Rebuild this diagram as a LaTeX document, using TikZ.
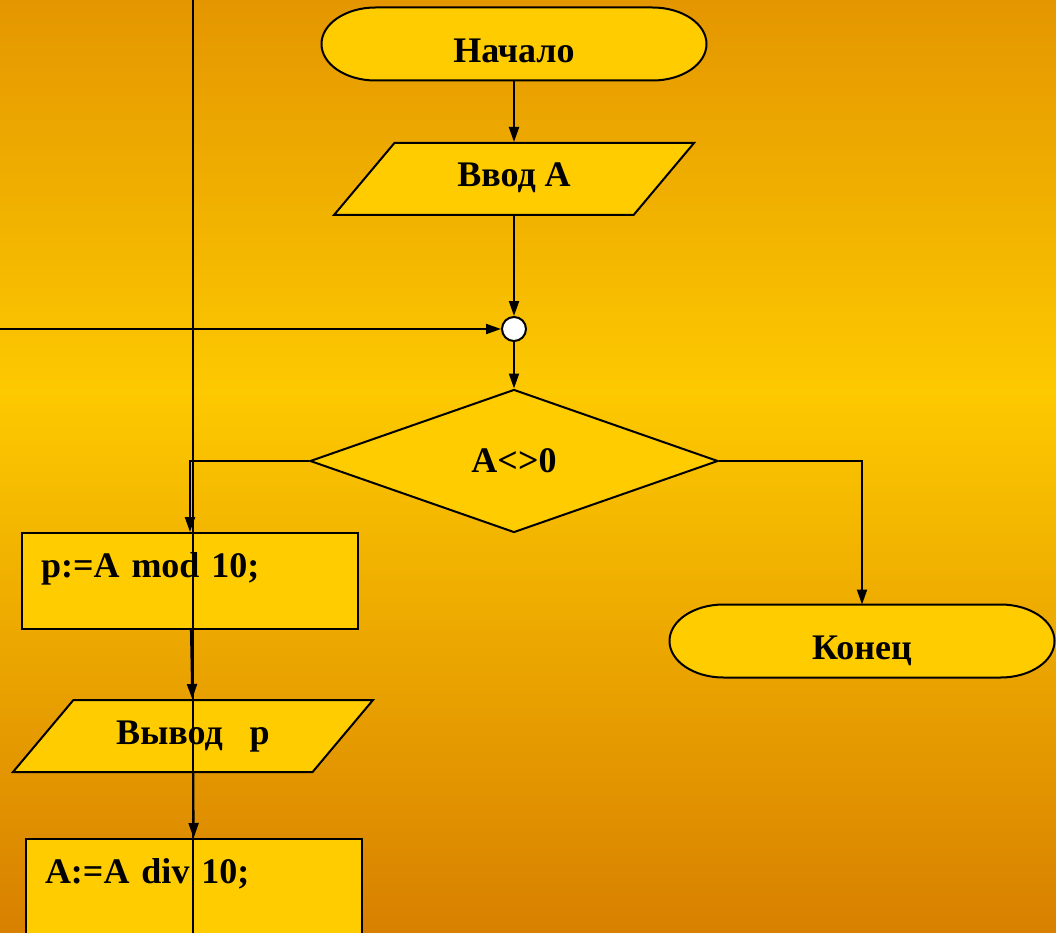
\documentclass[tikz,border=0pt]{standalone}
\usepackage{fontspec}
\setmainfont{Liberation Serif}
\usetikzlibrary{arrows.meta,shapes.geometric}
\definecolor{bgtop}{RGB}{228,150,0}
\definecolor{bgmid}{RGB}{253,201,0}
\definecolor{bgbot}{RGB}{216,128,0}
\definecolor{boxfill}{RGB}{255,204,0}
\pgfdeclareverticalshading{bgshade}{100bp}{color(0bp)=(bgbot); color(25bp)=(bgbot);
  color(54bp)=(bgmid); color(75bp)=(bgtop); color(100bp)=(bgtop)}
\pgfdeclarelayer{back}
\pgfdeclarelayer{outline}
\pgfsetlayers{back,outline,main}

% oval ends of a terminal block
\newcommand\termoutline[1]{%
  \filldraw[-, line width=2pt, fill=boxfill]
    ([xshift=54pt]#1.north west) -- ([xshift=-54pt]#1.north east)
    arc[start angle=90, end angle=-90, x radius=54pt, y radius=36.5pt]
    -- ([xshift=54pt]#1.south west)
    arc[start angle=270, end angle=90, x radius=54pt, y radius=36.5pt] -- cycle;}

\begin{document}
\begin{tikzpicture}[x=1pt, y=-1pt, ->, >={Triangle[length=15pt,width=10pt]},
                link/.style={line width=2pt},
                base/.style={draw, line width=2pt, fill=boxfill, inner sep=0pt,
                  font=\fontsize{36}{40}\selectfont\bfseries},
                term node/.style={base, draw=none, fill=none, rectangle, outer sep=0pt,
                  minimum width=385pt, text height=55pt, text depth=18pt},
                io node/.style={base, trapezium, trapezium left angle=50,
                  trapezium right angle=130, trapezium stretches body,
                  minimum width=360pt, text height=44pt, text depth=28pt},
                cond node/.style={base, diamond, minimum width=408pt, minimum height=143pt},
                proc node/.style={base, rectangle, minimum width=336pt, text width=298pt,
                  inner xsep=19pt, align=left, text height=44pt, text depth=52pt},
                join node/.style={circle, draw, line width=2pt, fill=white,
                  minimum size=24pt, inner sep=0pt}]

  \useasboundingbox (0,0) rectangle (1056,933);
  \begin{pgfonlayer}{back}
    \fill[-, shading=bgshade] (0,0) rectangle (1056,933);
  \end{pgfonlayer}

  \node[term node] (start) at (514,44) {Начало};
  \node[io node] (in) at (514,179) {Ввод А};
  \node[join node] (join) at (514,329) {};
  \node[cond node] (cond) at (514,461) {A<>0};
  \node[proc node] (mod) at (190,581) {p:=A mod 10;};
  \node[io node] (out) at (193,736) {Вывод\ \ \ p};
  \node[proc node] (div) at (194,887) {A:=A div 10;};
  \node[term node] (stop) at (862,641) {Конец};

  \begin{pgfonlayer}{outline}
    \termoutline{start}
    \termoutline{stop}
  \end{pgfonlayer}

  \coordinate (entry) at (0,329);
  \coordinate (line top) at (193,0);
  \coordinate (line bot) at (193,933);

  \path[link]
    (start) edge (in)
    (in) edge (join)
    (entry) edge (join)
    (join) edge (cond)
    (mod) edge (out)
    (out) edge (div);
  \draw[link] (cond.west) -| (mod.north);
  \draw[link] (cond.east) -| (stop.north);
  \draw[link, -] (line top) -- (line bot);
\end{tikzpicture}
\end{document}
